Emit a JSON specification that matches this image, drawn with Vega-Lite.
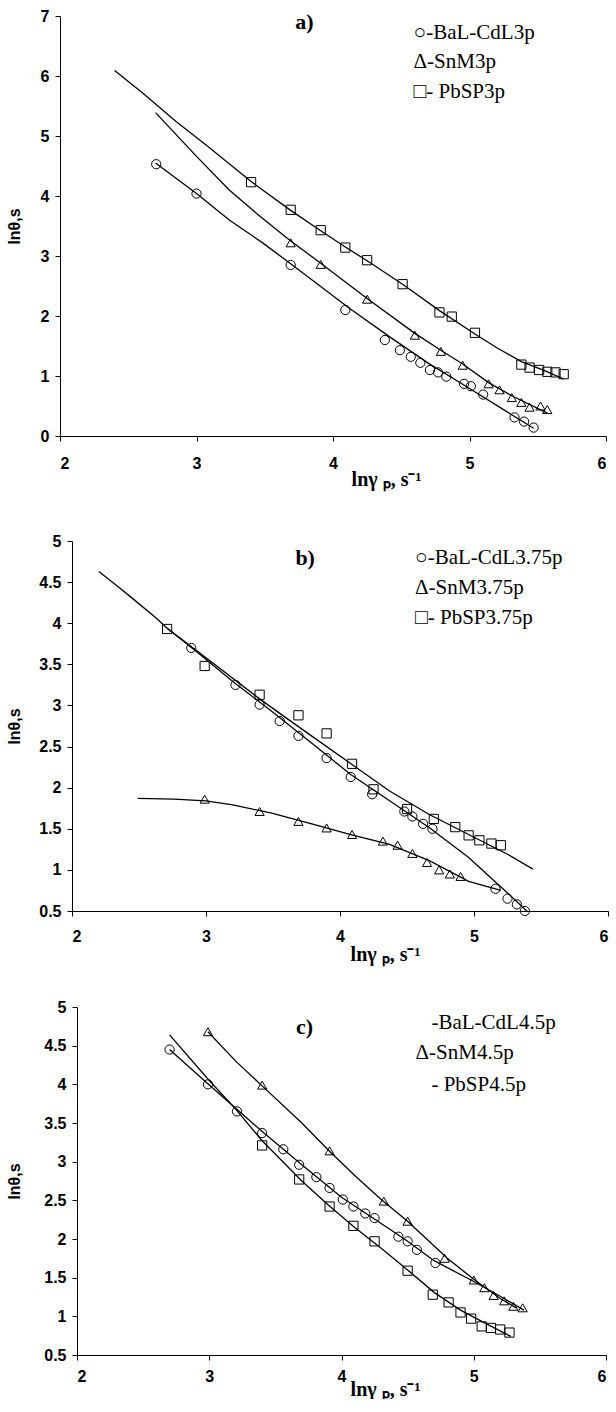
{
  "$schema": "https://vega.github.io/schema/vega-lite/v6.json",
  "padding": {"left": 0, "top": 8, "right": 0, "bottom": 0},
  "background": "white",
  "config": {
    "view": {"stroke": null},
    "axis": {"grid": false, "domainColor": "black", "tickColor": "black", "labelColor": "black", "titleColor": "black", "domainWidth": 1, "tickWidth": 1, "tickSize": 5, "labelFont": "Liberation Sans", "labelFontWeight": "bold", "labelFontSize": 16},
    "axisY": {"labelPadding": 6, "titleFont": "Liberation Sans", "titleFontWeight": "bold", "titleFontSize": 16},
    "axisX": {"titleFont": "Liberation Serif", "titleFontWeight": "bold", "titleFontSize": 20, "titleBaseline": "alphabetic", "titleAlign": "center"}
  },
  "datasets": {
    "pts": [
      {"panel":"a","series":"BaL-CdL","x":2.705,"y":4.53},{"panel":"a","series":"BaL-CdL","x":3.0,"y":4.04},{"panel":"a","series":"BaL-CdL","x":3.69,"y":2.85},{"panel":"a","series":"BaL-CdL","x":4.09,"y":2.10},{"panel":"a","series":"BaL-CdL","x":4.38,"y":1.60},{"panel":"a","series":"BaL-CdL","x":4.49,"y":1.43},{"panel":"a","series":"BaL-CdL","x":4.57,"y":1.32},{"panel":"a","series":"BaL-CdL","x":4.64,"y":1.22},{"panel":"a","series":"BaL-CdL","x":4.71,"y":1.10},{"panel":"a","series":"BaL-CdL","x":4.77,"y":1.06},{"panel":"a","series":"BaL-CdL","x":4.83,"y":0.99},{"panel":"a","series":"BaL-CdL","x":4.96,"y":0.87},{"panel":"a","series":"BaL-CdL","x":5.01,"y":0.83},{"panel":"a","series":"BaL-CdL","x":5.10,"y":0.69},{"panel":"a","series":"BaL-CdL","x":5.33,"y":0.31},{"panel":"a","series":"BaL-CdL","x":5.40,"y":0.24},{"panel":"a","series":"BaL-CdL","x":5.47,"y":0.14},
      {"panel":"a","series":"SnM","x":3.69,"y":3.22},{"panel":"a","series":"SnM","x":3.91,"y":2.86},{"panel":"a","series":"SnM","x":4.25,"y":2.28},{"panel":"a","series":"SnM","x":4.60,"y":1.68},{"panel":"a","series":"SnM","x":4.79,"y":1.41},{"panel":"a","series":"SnM","x":4.95,"y":1.18},{"panel":"a","series":"SnM","x":5.14,"y":0.87},{"panel":"a","series":"SnM","x":5.22,"y":0.77},{"panel":"a","series":"SnM","x":5.31,"y":0.64},{"panel":"a","series":"SnM","x":5.38,"y":0.56},{"panel":"a","series":"SnM","x":5.44,"y":0.48},{"panel":"a","series":"SnM","x":5.52,"y":0.50},{"panel":"a","series":"SnM","x":5.57,"y":0.44},
      {"panel":"a","series":"PbSP","x":3.40,"y":4.23},{"panel":"a","series":"PbSP","x":3.69,"y":3.77},{"panel":"a","series":"PbSP","x":3.91,"y":3.43},{"panel":"a","series":"PbSP","x":4.09,"y":3.14},{"panel":"a","series":"PbSP","x":4.25,"y":2.93},{"panel":"a","series":"PbSP","x":4.51,"y":2.53},{"panel":"a","series":"PbSP","x":4.78,"y":2.06},{"panel":"a","series":"PbSP","x":4.87,"y":1.99},{"panel":"a","series":"PbSP","x":5.04,"y":1.72},{"panel":"a","series":"PbSP","x":5.38,"y":1.19},{"panel":"a","series":"PbSP","x":5.44,"y":1.14},{"panel":"a","series":"PbSP","x":5.51,"y":1.10},{"panel":"a","series":"PbSP","x":5.57,"y":1.07},{"panel":"a","series":"PbSP","x":5.63,"y":1.06},{"panel":"a","series":"PbSP","x":5.69,"y":1.03},
      {"panel":"b","series":"BaL-CdL","x":2.89,"y":3.70},{"panel":"b","series":"BaL-CdL","x":3.22,"y":3.25},{"panel":"b","series":"BaL-CdL","x":3.40,"y":3.01},{"panel":"b","series":"BaL-CdL","x":3.55,"y":2.81},{"panel":"b","series":"BaL-CdL","x":3.69,"y":2.63},{"panel":"b","series":"BaL-CdL","x":3.90,"y":2.36},{"panel":"b","series":"BaL-CdL","x":4.08,"y":2.13},{"panel":"b","series":"BaL-CdL","x":4.24,"y":1.92},{"panel":"b","series":"BaL-CdL","x":4.48,"y":1.71},{"panel":"b","series":"BaL-CdL","x":4.54,"y":1.65},{"panel":"b","series":"BaL-CdL","x":4.62,"y":1.56},{"panel":"b","series":"BaL-CdL","x":4.69,"y":1.50},{"panel":"b","series":"BaL-CdL","x":5.16,"y":0.77},{"panel":"b","series":"BaL-CdL","x":5.25,"y":0.65},{"panel":"b","series":"BaL-CdL","x":5.32,"y":0.58},{"panel":"b","series":"BaL-CdL","x":5.38,"y":0.50},
      {"panel":"b","series":"PbSP","x":2.71,"y":3.93},{"panel":"b","series":"PbSP","x":2.99,"y":3.48},{"panel":"b","series":"PbSP","x":3.40,"y":3.13},{"panel":"b","series":"PbSP","x":3.69,"y":2.88},{"panel":"b","series":"PbSP","x":3.90,"y":2.66},{"panel":"b","series":"PbSP","x":4.09,"y":2.29},{"panel":"b","series":"PbSP","x":4.25,"y":1.98},{"panel":"b","series":"PbSP","x":4.50,"y":1.74},{"panel":"b","series":"PbSP","x":4.70,"y":1.62},{"panel":"b","series":"PbSP","x":4.86,"y":1.52},{"panel":"b","series":"PbSP","x":4.96,"y":1.42},{"panel":"b","series":"PbSP","x":5.04,"y":1.36},{"panel":"b","series":"PbSP","x":5.13,"y":1.32},{"panel":"b","series":"PbSP","x":5.20,"y":1.30},
      {"panel":"b","series":"SnM","x":2.99,"y":1.86},{"panel":"b","series":"SnM","x":3.40,"y":1.71},{"panel":"b","series":"SnM","x":3.69,"y":1.59},{"panel":"b","series":"SnM","x":3.90,"y":1.51},{"panel":"b","series":"SnM","x":4.09,"y":1.43},{"panel":"b","series":"SnM","x":4.32,"y":1.35},{"panel":"b","series":"SnM","x":4.43,"y":1.30},{"panel":"b","series":"SnM","x":4.54,"y":1.20},{"panel":"b","series":"SnM","x":4.65,"y":1.09},{"panel":"b","series":"SnM","x":4.74,"y":1.00},{"panel":"b","series":"SnM","x":4.82,"y":0.95},{"panel":"b","series":"SnM","x":4.90,"y":0.92},
      {"panel":"c","series":"BaL-CdL","x":2.70,"y":4.45},{"panel":"c","series":"BaL-CdL","x":2.99,"y":4.00},{"panel":"c","series":"BaL-CdL","x":3.21,"y":3.65},{"panel":"c","series":"BaL-CdL","x":3.40,"y":3.37},{"panel":"c","series":"BaL-CdL","x":3.56,"y":3.16},{"panel":"c","series":"BaL-CdL","x":3.68,"y":2.96},{"panel":"c","series":"BaL-CdL","x":3.81,"y":2.80},{"panel":"c","series":"BaL-CdL","x":3.91,"y":2.66},{"panel":"c","series":"BaL-CdL","x":4.01,"y":2.51},{"panel":"c","series":"BaL-CdL","x":4.09,"y":2.42},{"panel":"c","series":"BaL-CdL","x":4.18,"y":2.33},{"panel":"c","series":"BaL-CdL","x":4.25,"y":2.27},{"panel":"c","series":"BaL-CdL","x":4.43,"y":2.03},{"panel":"c","series":"BaL-CdL","x":4.50,"y":1.97},{"panel":"c","series":"BaL-CdL","x":4.57,"y":1.86},{"panel":"c","series":"BaL-CdL","x":4.71,"y":1.69},
      {"panel":"c","series":"PbSP","x":3.40,"y":3.21},{"panel":"c","series":"PbSP","x":3.68,"y":2.77},{"panel":"c","series":"PbSP","x":3.91,"y":2.42},{"panel":"c","series":"PbSP","x":4.09,"y":2.17},{"panel":"c","series":"PbSP","x":4.25,"y":1.97},{"panel":"c","series":"PbSP","x":4.50,"y":1.59},{"panel":"c","series":"PbSP","x":4.69,"y":1.28},{"panel":"c","series":"PbSP","x":4.81,"y":1.18},{"panel":"c","series":"PbSP","x":4.90,"y":1.05},{"panel":"c","series":"PbSP","x":4.98,"y":0.97},{"panel":"c","series":"PbSP","x":5.06,"y":0.87},{"panel":"c","series":"PbSP","x":5.13,"y":0.85},{"panel":"c","series":"PbSP","x":5.20,"y":0.83},{"panel":"c","series":"PbSP","x":5.27,"y":0.79},
      {"panel":"c","series":"SnM","x":2.99,"y":4.68},{"panel":"c","series":"SnM","x":3.40,"y":3.99},{"panel":"c","series":"SnM","x":3.91,"y":3.14},{"panel":"c","series":"SnM","x":4.32,"y":2.49},{"panel":"c","series":"SnM","x":4.50,"y":2.23},{"panel":"c","series":"SnM","x":4.78,"y":1.75},{"panel":"c","series":"SnM","x":5.00,"y":1.47},{"panel":"c","series":"SnM","x":5.08,"y":1.37},{"panel":"c","series":"SnM","x":5.15,"y":1.27},{"panel":"c","series":"SnM","x":5.23,"y":1.20},{"panel":"c","series":"SnM","x":5.30,"y":1.13},{"panel":"c","series":"SnM","x":5.37,"y":1.11}
    ],
    "lns": [
      {"panel":"a","series":"BaL-CdL","x":2.70,"y":4.55},{"panel":"a","series":"BaL-CdL","x":3.0,"y":4.04},{"panel":"a","series":"BaL-CdL","x":3.24,"y":3.60},{"panel":"a","series":"BaL-CdL","x":3.49,"y":3.21},{"panel":"a","series":"BaL-CdL","x":3.69,"y":2.87},{"panel":"a","series":"BaL-CdL","x":3.83,"y":2.63},{"panel":"a","series":"BaL-CdL","x":4.12,"y":2.13},{"panel":"a","series":"BaL-CdL","x":4.41,"y":1.66},{"panel":"a","series":"BaL-CdL","x":4.70,"y":1.21},{"panel":"a","series":"BaL-CdL","x":4.98,"y":0.82},{"panel":"a","series":"BaL-CdL","x":5.27,"y":0.41},{"panel":"a","series":"BaL-CdL","x":5.47,"y":0.13},
      {"panel":"a","series":"SnM","x":2.70,"y":5.39},{"panel":"a","series":"SnM","x":3.00,"y":4.66},{"panel":"a","series":"SnM","x":3.24,"y":4.10},{"panel":"a","series":"SnM","x":3.44,"y":3.71},{"panel":"a","series":"SnM","x":3.69,"y":3.25},{"panel":"a","series":"SnM","x":3.91,"y":2.88},{"panel":"a","series":"SnM","x":4.25,"y":2.29},{"panel":"a","series":"SnM","x":4.60,"y":1.71},{"panel":"a","series":"SnM","x":4.79,"y":1.43},{"panel":"a","series":"SnM","x":4.95,"y":1.20},{"panel":"a","series":"SnM","x":5.14,"y":0.89},{"panel":"a","series":"SnM","x":5.31,"y":0.67},{"panel":"a","series":"SnM","x":5.57,"y":0.38},
      {"panel":"a","series":"PbSP","x":2.40,"y":6.09},{"panel":"a","series":"PbSP","x":2.61,"y":5.71},{"panel":"a","series":"PbSP","x":2.85,"y":5.24},{"panel":"a","series":"PbSP","x":3.07,"y":4.85},{"panel":"a","series":"PbSP","x":3.40,"y":4.24},{"panel":"a","series":"PbSP","x":3.69,"y":3.76},{"panel":"a","series":"PbSP","x":3.91,"y":3.42},{"panel":"a","series":"PbSP","x":4.09,"y":3.15},{"panel":"a","series":"PbSP","x":4.25,"y":2.92},{"panel":"a","series":"PbSP","x":4.51,"y":2.53},{"panel":"a","series":"PbSP","x":4.78,"y":2.09},{"panel":"a","series":"PbSP","x":5.04,"y":1.70},{"panel":"a","series":"PbSP","x":5.20,"y":1.47},{"panel":"a","series":"PbSP","x":5.38,"y":1.24},{"panel":"a","series":"PbSP","x":5.55,"y":1.09},{"panel":"a","series":"PbSP","x":5.69,"y":0.95},
      {"panel":"b","series":"BaL-CdL","x":2.20,"y":4.63},{"panel":"b","series":"BaL-CdL","x":2.34,"y":4.45},{"panel":"b","series":"BaL-CdL","x":2.46,"y":4.29},{"panel":"b","series":"BaL-CdL","x":2.63,"y":4.06},{"panel":"b","series":"BaL-CdL","x":2.71,"y":3.94},{"panel":"b","series":"BaL-CdL","x":2.91,"y":3.68},{"panel":"b","series":"BaL-CdL","x":3.20,"y":3.29},{"panel":"b","series":"BaL-CdL","x":3.49,"y":2.93},{"panel":"b","series":"BaL-CdL","x":3.79,"y":2.54},{"panel":"b","series":"BaL-CdL","x":4.08,"y":2.16},{"panel":"b","series":"BaL-CdL","x":4.37,"y":1.84},{"panel":"b","series":"BaL-CdL","x":4.67,"y":1.51},{"panel":"b","series":"BaL-CdL","x":4.96,"y":1.15},{"panel":"b","series":"BaL-CdL","x":5.25,"y":0.72},{"panel":"b","series":"BaL-CdL","x":5.40,"y":0.49},
      {"panel":"b","series":"PbSP","x":2.71,"y":3.94},{"panel":"b","series":"PbSP","x":3.00,"y":3.58},{"panel":"b","series":"PbSP","x":3.40,"y":3.08},{"panel":"b","series":"PbSP","x":3.70,"y":2.73},{"panel":"b","series":"PbSP","x":4.10,"y":2.27},{"panel":"b","series":"PbSP","x":4.37,"y":1.96},{"panel":"b","series":"PbSP","x":4.67,"y":1.67},{"panel":"b","series":"PbSP","x":4.96,"y":1.43},{"panel":"b","series":"PbSP","x":5.25,"y":1.19},{"panel":"b","series":"PbSP","x":5.44,"y":1.01},
      {"panel":"b","series":"SnM","x":2.49,"y":1.87},{"panel":"b","series":"SnM","x":2.76,"y":1.86},{"panel":"b","series":"SnM","x":3.00,"y":1.84},{"panel":"b","series":"SnM","x":3.20,"y":1.79},{"panel":"b","series":"SnM","x":3.49,"y":1.69},{"panel":"b","series":"SnM","x":3.79,"y":1.56},{"panel":"b","series":"SnM","x":4.08,"y":1.43},{"panel":"b","series":"SnM","x":4.37,"y":1.31},{"panel":"b","series":"SnM","x":4.67,"y":1.11},{"panel":"b","series":"SnM","x":4.96,"y":0.86},{"panel":"b","series":"SnM","x":5.20,"y":0.75},
      {"panel":"c","series":"BaL-CdL","x":2.70,"y":4.45},{"panel":"c","series":"BaL-CdL","x":3.00,"y":3.99},{"panel":"c","series":"BaL-CdL","x":3.40,"y":3.39},{"panel":"c","series":"BaL-CdL","x":3.70,"y":2.96},{"panel":"c","series":"BaL-CdL","x":4.00,"y":2.54},{"panel":"c","series":"BaL-CdL","x":4.30,"y":2.20},{"panel":"c","series":"BaL-CdL","x":4.50,"y":1.97},{"panel":"c","series":"BaL-CdL","x":4.70,"y":1.72},{"panel":"c","series":"BaL-CdL","x":5.00,"y":1.45},{"panel":"c","series":"BaL-CdL","x":5.20,"y":1.26},{"panel":"c","series":"BaL-CdL","x":5.38,"y":1.08},
      {"panel":"c","series":"PbSP","x":2.70,"y":4.64},{"panel":"c","series":"PbSP","x":3.00,"y":4.05},{"panel":"c","series":"PbSP","x":3.20,"y":3.68},{"panel":"c","series":"PbSP","x":3.40,"y":3.27},{"panel":"c","series":"PbSP","x":3.70,"y":2.75},{"panel":"c","series":"PbSP","x":3.90,"y":2.44},{"panel":"c","series":"PbSP","x":4.10,"y":2.15},{"panel":"c","series":"PbSP","x":4.30,"y":1.88},{"panel":"c","series":"PbSP","x":4.50,"y":1.60},{"panel":"c","series":"PbSP","x":4.70,"y":1.31},{"panel":"c","series":"PbSP","x":4.90,"y":1.08},{"panel":"c","series":"PbSP","x":5.10,"y":0.90},{"panel":"c","series":"PbSP","x":5.28,"y":0.74},
      {"panel":"c","series":"SnM","x":2.99,"y":4.68},{"panel":"c","series":"SnM","x":3.20,"y":4.30},{"panel":"c","series":"SnM","x":3.40,"y":3.98},{"panel":"c","series":"SnM","x":3.70,"y":3.50},{"panel":"c","series":"SnM","x":3.90,"y":3.15},{"panel":"c","series":"SnM","x":4.10,"y":2.82},{"panel":"c","series":"SnM","x":4.30,"y":2.51},{"panel":"c","series":"SnM","x":4.50,"y":2.23},{"panel":"c","series":"SnM","x":4.80,"y":1.75},{"panel":"c","series":"SnM","x":5.00,"y":1.48},{"panel":"c","series":"SnM","x":5.20,"y":1.23},{"panel":"c","series":"SnM","x":5.32,"y":1.11}
    ],
    "ann": [
      {"panel":"a","kind":"title","x":3.79,"y":6.90,"text":"a)"},
      {"panel":"a","kind":"legend","x":4.59,"y":6.72,"text":"○-BaL-CdL3p"},
      {"panel":"a","kind":"legend","x":4.59,"y":6.23,"text":"Δ-SnM3p"},
      {"panel":"a","kind":"legend","x":4.59,"y":5.73,"text":"□- PbSP3p"},
      {"panel":"b","kind":"title","x":3.74,"y":4.79,"text":"b)"},
      {"panel":"b","kind":"legend","x":4.56,"y":4.79,"text":"○-BaL-CdL3.75p"},
      {"panel":"b","kind":"legend","x":4.56,"y":4.43,"text":"Δ-SnM3.75p"},
      {"panel":"b","kind":"legend","x":4.56,"y":4.06,"text":"□- PbSP3.75p"},
      {"panel":"c","kind":"title","x":3.72,"y":4.74,"text":"c)"},
      {"panel":"c","kind":"legend","x":4.68,"y":4.79,"text":"-BaL-CdL4.5p"},
      {"panel":"c","kind":"legend","x":4.56,"y":4.40,"text":"Δ-SnM4.5p"},
      {"panel":"c","kind":"legend","x":4.68,"y":3.99,"text":"- PbSP4.5p"}
    ]
  },
  "spacing": 44,
  "vconcat": [
    {
      "spacing": 0,
      "hconcat": [
        {"width": 6, "height": 10, "data": {"values": []}, "mark": {"type": "point", "opacity": 0}, "encoding": {}},
        {
          "width": 546, "height": 420,
          "encoding": {
            "x": {"field": "x", "type": "quantitative", "scale": {"domain": [2, 6], "nice": false, "zero": false}, "axis": {"values": [2,3,4,5,6], "labelPadding": 14, "title": "lnγ ₚ, s⁻¹", "titleX": 326, "titleY": 49}},
            "y": {"field": "y", "type": "quantitative", "scale": {"domain": [0, 7], "nice": false}, "axis": {"values": [0,1,2,3,4,5,6,7], "format": "~g", "title": "lnθ,s", "titlePadding": 18}}
          },
          "layer": [
            {"data": {"name": "lns"}, "transform": [{"filter": "datum.panel === 'a'"}], "mark": {"type": "line", "color": "black", "strokeWidth": 1.3}, "encoding": {"detail": {"field": "series"}}},
            {"data": {"name": "pts"}, "transform": [{"filter": "datum.panel === 'a'"}], "mark": {"type": "point", "filled": false, "color": "black", "strokeWidth": 1, "size": 85, "opacity": 1}, "encoding": {"shape": {"field": "series", "scale": {"domain": ["BaL-CdL","SnM","PbSP"], "range": ["circle","triangle-up","square"]}, "legend": null}}},
            {"data": {"name": "ann"}, "transform": [{"filter": "datum.panel === 'a' && datum.kind === 'title'"}], "mark": {"type": "text", "font": "Liberation Serif", "fontWeight": "bold", "fontSize": 22, "align": "center", "baseline": "middle", "color": "black"}, "encoding": {"text": {"field": "text"}}},
            {"data": {"name": "ann"}, "transform": [{"filter": "datum.panel === 'a' && datum.kind === 'legend'"}], "mark": {"type": "text", "font": "Liberation Serif", "fontSize": 21, "align": "left", "baseline": "middle", "color": "black"}, "encoding": {"text": {"field": "text"}}}
          ]
        }
      ]
    },
    {
      "spacing": 35,
      "vconcat": [
        {
          "spacing": 0,
          "hconcat": [
            {"width": 6, "height": 10, "data": {"values": []}, "mark": {"type": "point", "opacity": 0}, "encoding": {}},
            {
              "width": 536, "height": 370,
              "encoding": {
                "x": {"field": "x", "type": "quantitative", "scale": {"domain": [2, 6], "nice": false, "zero": false}, "axis": {"values": [2,3,4,5,6], "labelPadding": 12, "title": "lnγ ₚ, s⁻¹", "titleX": 313, "titleY": 49}},
                "y": {"field": "y", "type": "quantitative", "scale": {"domain": [0.5, 5], "nice": false, "zero": false}, "axis": {"values": [0.5,1,1.5,2,2.5,3,3.5,4,4.5,5], "format": "~g", "title": "lnθ,s", "titlePadding": 16}}
              },
              "layer": [
                {"data": {"name": "lns"}, "transform": [{"filter": "datum.panel === 'b'"}], "mark": {"type": "line", "color": "black", "strokeWidth": 1.3}, "encoding": {"detail": {"field": "series"}}},
                {"data": {"name": "pts"}, "transform": [{"filter": "datum.panel === 'b'"}], "mark": {"type": "point", "filled": false, "color": "black", "strokeWidth": 1, "size": 85, "opacity": 1}, "encoding": {"shape": {"field": "series", "scale": {"domain": ["BaL-CdL","SnM","PbSP"], "range": ["circle","triangle-up","square"]}, "legend": null}}},
                {"data": {"name": "ann"}, "transform": [{"filter": "datum.panel === 'b' && datum.kind === 'title'"}], "mark": {"type": "text", "font": "Liberation Serif", "fontWeight": "bold", "fontSize": 22, "align": "center", "baseline": "middle", "color": "black"}, "encoding": {"text": {"field": "text"}}},
                {"data": {"name": "ann"}, "transform": [{"filter": "datum.panel === 'b' && datum.kind === 'legend'"}], "mark": {"type": "text", "font": "Liberation Serif", "fontSize": 21, "align": "left", "baseline": "middle", "color": "black"}, "encoding": {"text": {"field": "text"}}}
              ]
            }
          ]
        },
        {
          "spacing": 0,
          "hconcat": [
            {"width": 6, "height": 10, "data": {"values": []}, "mark": {"type": "point", "opacity": 0}, "encoding": {}},
            {
              "width": 529, "height": 348,
              "encoding": {
                "x": {"field": "x", "type": "quantitative", "scale": {"domain": [2, 6], "nice": false, "zero": false}, "axis": {"values": [2,3,4,5,6], "labelPadding": 8, "title": "lnγ ₚ, s⁻¹", "titleX": 308, "titleY": 40}},
                "y": {"field": "y", "type": "quantitative", "scale": {"domain": [0.5, 5], "nice": false, "zero": false}, "axis": {"values": [0.5,1,1.5,2,2.5,3,3.5,4,4.5,5], "format": "~g", "title": "lnθ,s", "titlePadding": 21}}
              },
              "layer": [
                {"data": {"name": "lns"}, "transform": [{"filter": "datum.panel === 'c'"}], "mark": {"type": "line", "color": "black", "strokeWidth": 1.3}, "encoding": {"detail": {"field": "series"}}},
                {"data": {"name": "pts"}, "transform": [{"filter": "datum.panel === 'c'"}], "mark": {"type": "point", "filled": false, "color": "black", "strokeWidth": 1, "size": 85, "opacity": 1}, "encoding": {"shape": {"field": "series", "scale": {"domain": ["BaL-CdL","SnM","PbSP"], "range": ["circle","triangle-up","square"]}, "legend": null}}},
                {"data": {"name": "ann"}, "transform": [{"filter": "datum.panel === 'c' && datum.kind === 'title'"}], "mark": {"type": "text", "font": "Liberation Serif", "fontWeight": "bold", "fontSize": 22, "align": "center", "baseline": "middle", "color": "black"}, "encoding": {"text": {"field": "text"}}},
                {"data": {"name": "ann"}, "transform": [{"filter": "datum.panel === 'c' && datum.kind === 'legend'"}], "mark": {"type": "text", "font": "Liberation Serif", "fontSize": 21, "align": "left", "baseline": "middle", "color": "black"}, "encoding": {"text": {"field": "text"}}}
              ]
            }
          ]
        }
      ]
    }
  ]
}
